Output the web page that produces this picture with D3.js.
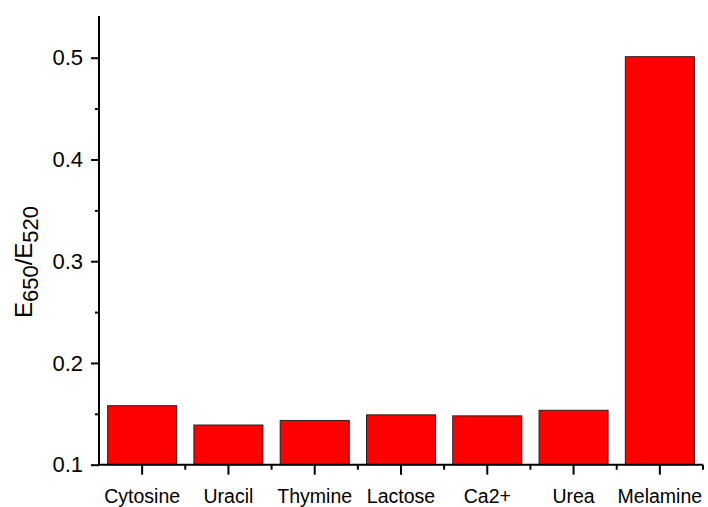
<!DOCTYPE html>
<html>
<head>
<meta charset="utf-8">
<script src="https://cdn.jsdelivr.net/npm/d3@7"></script>
<style>
  html, body { margin: 0; padding: 0; background: #fff; }
  svg { display: block; }
  text { font-family: "Liberation Sans", Arial, sans-serif; fill: #000; }
</style>
</head>
<body>
<svg id="chart" width="708" height="507"></svg>
<script>
// Selectivity of the probe: E650/E520 ratio for each tested substance
const categories = ["Cytosine", "Uracil", "Thymine", "Lactose", "Ca2+", "Urea", "Melamine"];
const ratios = [0.158, 0.139, 0.1435, 0.149, 0.148, 0.1535, 0.501];
const yTicks = [0.1, 0.2, 0.3, 0.4, 0.5];
const yMinorTicks = [0.15, 0.25, 0.35, 0.45];

const svg = d3.select("#chart");
const plotLeft = 99, plotRight = 703, plotTop = 16, plotBottom = 464.7;

const x = d3.scaleBand()
  .domain(categories)
  .range([plotLeft, plotRight])
  .paddingInner(0.2)
  .paddingOuter(0.1);

const y = d3.scaleLinear()
  .domain([0.1, 0.541])
  .range([plotBottom, plotTop]);

// Bars
svg.append("g")
  .selectAll("rect")
  .data(categories)
  .join("rect")
  .attr("x", d => x(d))
  .attr("width", x.bandwidth())
  .attr("y", (d, i) => y(ratios[i]))
  .attr("height", (d, i) => y(0.1) - y(ratios[i]))
  .attr("fill", "#ff0000")
  .attr("stroke", "#222")
  .attr("stroke-width", 1);

// Y axis with major and minor ticks
const yAxis = svg.append("g")
  .attr("transform", `translate(${plotLeft},0)`)
  .call(d3.axisLeft(y).tickValues(yTicks).tickFormat(d3.format(".1f")).tickSize(8).tickPadding(8));
yAxis.select(".domain").attr("d", `M0,${plotTop}V${plotBottom}`);
yAxis.selectAll(".tick text").attr("font-size", 22).attr("font-family", "Liberation Sans, Arial, sans-serif");
svg.append("g")
  .attr("transform", `translate(${plotLeft},0)`)
  .call(d3.axisLeft(y).tickValues(yMinorTicks).tickFormat("").tickSize(4))
  .select(".domain").remove();

// X axis: long ticks at category centres, short ticks at category boundaries
const xAxis = svg.append("g")
  .attr("transform", `translate(0,${plotBottom})`)
  .call(d3.axisBottom(x).tickSize(10).tickPadding(14));
xAxis.select(".domain").attr("d", `M${plotLeft},0H${plotRight}`);
xAxis.selectAll(".tick text").attr("font-size", 19.5).attr("font-family", "Liberation Sans, Arial, sans-serif");

const step = x.step();
const bounds = categories.map(d => x(d) + x.bandwidth() / 2 + step / 2);
svg.append("g")
  .selectAll("line")
  .data(bounds)
  .join("line")
  .attr("x1", d => d).attr("x2", d => d)
  .attr("y1", plotBottom).attr("y2", plotBottom + 5)
  .attr("stroke", "#000").attr("stroke-width", 2);

svg.selectAll(".domain, .tick line").attr("stroke", "#000").attr("stroke-width", 2);

// Y axis title: E650/E520 with subscripts
const title = svg.append("text")
  .attr("transform", "translate(32,262) rotate(-90)")
  .attr("text-anchor", "middle")
  .attr("font-size", 24);
title.append("tspan").text("E");
title.append("tspan").attr("font-size", 22).attr("dy", 6).text("650");
title.append("tspan").attr("dy", -6).text("/E");
title.append("tspan").attr("font-size", 22).attr("dy", 6).text("520");
</script>
</body>
</html>
